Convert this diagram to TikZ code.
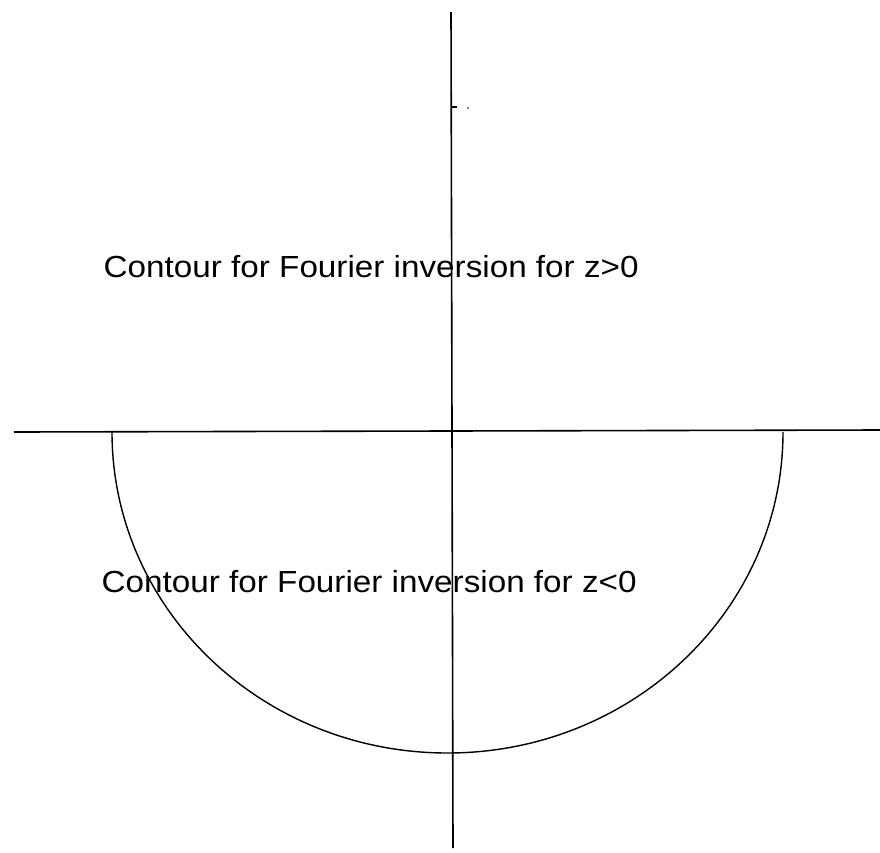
\documentclass[tikz,border=0pt]{standalone}
\usepackage{fontspec}
\setmainfont{Liberation Sans}
\begin{document}
\begin{tikzpicture}[x=1pt,y=-1pt,
  axis/.style={line width=1.6pt,black},
  contour/.style={line width=1.4pt,black},
  lab/.style={anchor=base west,inner sep=0pt,font=\fontsize{30.5}{36}\selectfont}]
\useasboundingbox (0,0) rectangle (880,852);
% axes
\coordinate (hl) at (14,432);
\coordinate (hr) at (880,430);
\coordinate (vt) at (451,12);
\coordinate (vb) at (453,848);
\draw[axis] (hl) -- (hr);
\draw[axis] (vt) -- (vb);
% small tick and dot on vertical axis
\coordinate (tk) at (452,107);
\draw[line width=1.2pt] (tk) -- ++(5,0);
\fill (468,108) circle[radius=0.8];
% lower contour
\coordinate (cl) at (112,432);
\draw[contour] (cl) arc[start angle=180,end angle=0,x radius=335.5,y radius=321];
% labels
\node[lab] (up) at (103.5,277) {\scalebox{1.09}[1]{Contour for Fourier inversion for z>0}};
\node[lab] (lo) at (101.5,592) {\scalebox{1.09}[1]{Contour for Fourier inversion for z<0}};
\end{tikzpicture}
\end{document}
